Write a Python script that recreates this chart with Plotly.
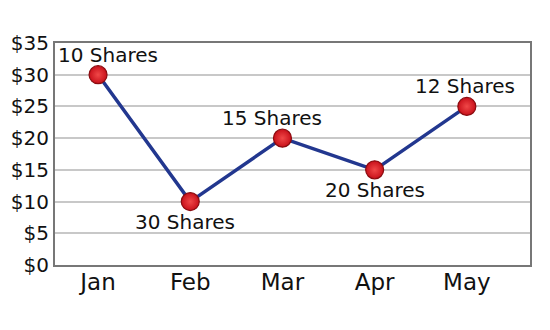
import plotly.graph_objects as go

months = ["Jan", "Feb", "Mar", "Apr", "May"]
prices = [30, 10, 20, 15, 25]
shares = ["10 Shares", "30 Shares", "15 Shares", "20 Shares", "12 Shares"]
label_pos = ["above", "below", "above", "below", "above"]
y_ticks = [0, 5, 10, 15, 20, 25, 30, 35]
y_tick_text = ["$0", "$5", "$10", "$15", "$20", "$25", "$30", "$35"]

fig = go.Figure()
fig.add_trace(go.Scatter(
    x=months, y=prices, mode="lines+markers",
    line=dict(color="#22378f", width=3.5),
    marker=dict(size=18, color="#c8101a", line=dict(color="#8a0c10", width=1.2),
                gradient=dict(type="radial", color="#f04848")),
    hoverinfo="skip", cliponaxis=False,
))

xshift = [10, -5, -10, 0, -2]
for m, p, s, pos, xs in zip(months, prices, shares, label_pos, xshift):
    fig.add_annotation(x=m, y=p, text=s, showarrow=False,
                       yshift=20 if pos == "above" else -20, xshift=xs,
                       font=dict(family="DejaVu Sans", size=20, color="#111111"))

fig.update_layout(
    width=550, height=330,
    margin=dict(l=55, r=20, t=43, b=65),
    paper_bgcolor="white", plot_bgcolor="white",
    showlegend=False,
    font=dict(family="DejaVu Sans", color="#111111"),
)
fig.update_xaxes(range=[-0.467, 4.685], showgrid=False,
                 showline=True, linecolor="#777777", linewidth=2, mirror=True,
                 ticks="", tickfont=dict(size=23), ticklabelstandoff=-5)
fig.update_yaxes(range=[0, 35], tickvals=y_ticks, ticktext=y_tick_text,
                 showgrid=True, gridcolor="#c8c8c8", gridwidth=1.5,
                 showline=True, linecolor="#777777", linewidth=2, mirror=True,
                 ticks="", tickfont=dict(size=20), zeroline=False)

fig.write_html("out.html")
